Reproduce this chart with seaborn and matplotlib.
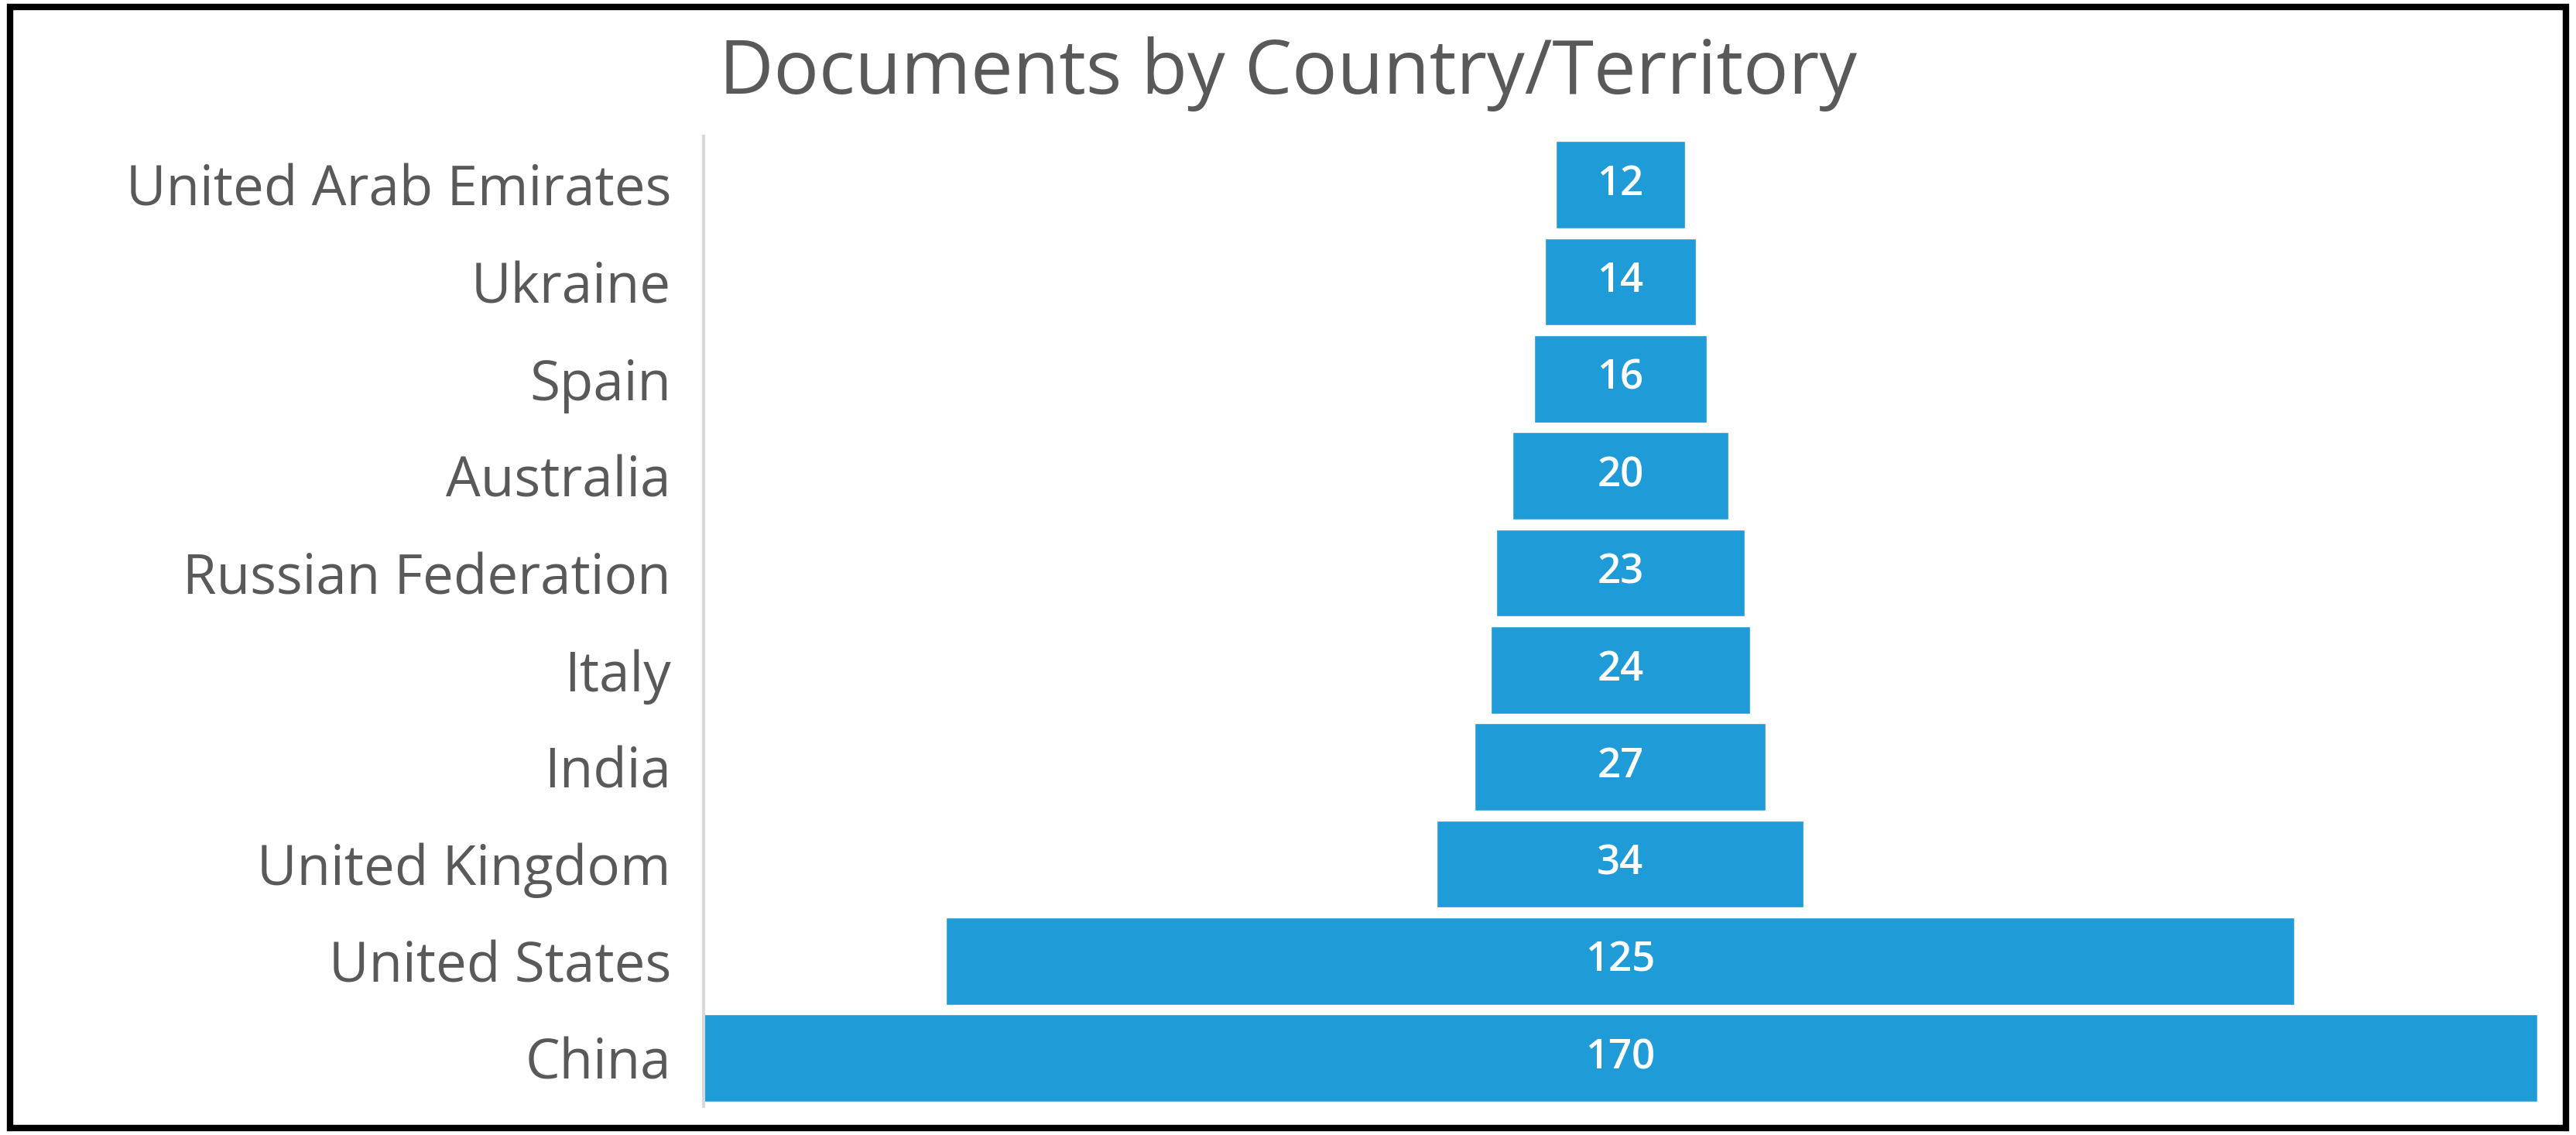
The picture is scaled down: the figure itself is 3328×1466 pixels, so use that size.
import matplotlib
matplotlib.use("Agg")
import matplotlib.pyplot as plt
import seaborn as sns
import pandas as pd
from matplotlib.patches import Rectangle

countries = ["United Arab Emirates", "Ukraine", "Spain", "Australia", "Russian Federation",
             "Italy", "India", "United Kingdom", "United States", "China"]
documents = [12, 14, 16, 20, 23, 24, 27, 34, 125, 170]

sns.set_theme(style="white")
plt.rcParams['font.family'] = ['Open Sans', 'DejaVu Sans']

maxv = max(documents)
df = pd.DataFrame({"country": countries, "docs": documents})
df["offset"] = [(maxv - v) / 2 for v in documents]
df["total"] = df["offset"] + df["docs"]

fig = plt.figure(figsize=(33.28, 14.66), dpi=100)
ax = fig.add_axes([0.273, 0.025, 0.712, 0.855])
sns.barplot(data=df, y="country", x="total", color="#1f9bd7", saturation=1, width=0.9, ax=ax, orient="h")
sns.barplot(data=df, y="country", x="offset", color="white", saturation=1, width=0.92, ax=ax, orient="h")
ax.set_xlim(0, maxv)
ax.set_xlabel("")
ax.set_ylabel("")
ax.set_xticks([])
for i, r in df.iterrows():
    ax.text(maxv / 2, i, str(r["docs"]), ha="center", va="center", color="white",
            fontsize=38, fontweight="semibold")
ax.tick_params(axis="y", labelsize=51, labelcolor="#595959", length=0, pad=30)
for s in ["top", "right", "bottom"]:
    ax.spines[s].set_visible(False)
ax.spines["left"].set_color("#d9d9d9")
ax.spines["left"].set_linewidth(3)
fig.text(0.5, 0.935, "Documents by Country/Territory", ha="center", va="center",
         fontsize=70, color="#595959")
fig.patches.append(Rectangle((0.004, 0.006), 0.992, 0.988, transform=fig.transFigure,
                             fill=False, edgecolor="black", linewidth=6))
fig.savefig("out.png", dpi=100)
